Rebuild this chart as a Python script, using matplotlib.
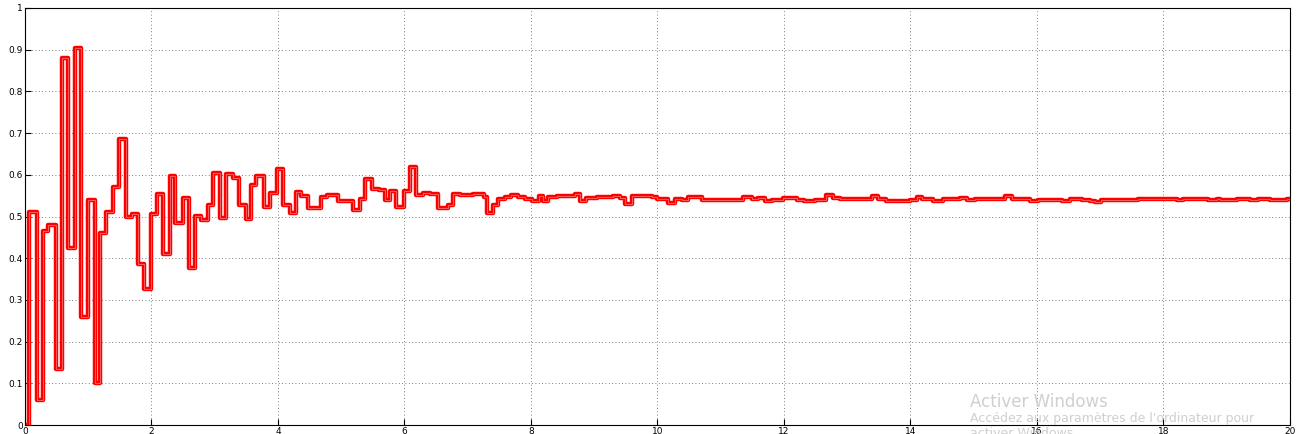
import numpy as np
import matplotlib
matplotlib.use("Agg")
import matplotlib.pyplot as plt

# step start times (s) and held values
t_edges = [0.0, 0.07, 0.195, 0.29, 0.37, 0.485, 0.59, 0.685, 0.795, 0.88,
           1.0, 1.1, 1.19, 1.28, 1.39, 1.49, 1.59, 1.69, 1.78, 1.88,
           1.99, 2.08, 2.19, 2.29, 2.37, 2.50, 2.59, 2.69, 2.79, 2.90,
           2.98, 3.08, 3.18, 3.29, 3.38, 3.50, 3.57, 3.66, 3.78, 3.87,
           3.98, 4.08, 4.19, 4.28, 4.37, 4.48, 4.68, 4.78, 4.95, 5.19,
           5.30, 5.38, 5.48, 5.59, 5.69, 5.77, 5.87, 5.99, 6.08, 6.19,
           6.30, 6.40, 6.53, 6.69, 6.77, 6.88, 7.09, 7.25, 7.30, 7.40,
           7.48, 7.59, 7.69, 7.80, 7.91, 8.01, 8.12, 8.19, 8.27, 8.41,
           8.70, 8.77, 8.87, 9.04, 9.30, 9.41, 9.49, 9.59, 9.91, 9.99,
           10.17, 10.28, 10.38, 10.49, 10.70, 11.36, 11.49, 11.59, 11.70, 11.81,
           11.99, 12.20, 12.31, 12.49, 12.67, 12.78, 12.89, 13.39, 13.49, 13.62,
           13.99, 14.10, 14.18, 14.36, 14.52, 14.78, 14.89, 15.02, 15.49, 15.60,
           15.89, 16.02, 16.39, 16.52, 16.71, 16.84, 16.92, 17.01, 17.60, 17.71,
           18.21, 18.31, 18.39, 18.71, 18.84, 18.89, 19.16, 19.37, 19.50, 19.68,
           19.95, 20.0]
values = [0.0, 0.51, 0.06, 0.465, 0.48, 0.135, 0.88, 0.425, 0.905, 0.26,
          0.54, 0.10, 0.46, 0.51, 0.57, 0.685, 0.50, 0.505, 0.385, 0.325,
          0.505, 0.555, 0.41, 0.597, 0.485, 0.544, 0.376, 0.501, 0.492, 0.528,
          0.605, 0.497, 0.602, 0.592, 0.528, 0.494, 0.576, 0.597, 0.522, 0.557,
          0.613, 0.528, 0.509, 0.559, 0.549, 0.52, 0.546, 0.552, 0.536, 0.516,
          0.541, 0.589, 0.565, 0.564, 0.540, 0.560, 0.522, 0.560, 0.619, 0.552,
          0.557, 0.554, 0.52, 0.528, 0.554, 0.552, 0.554, 0.547, 0.508, 0.528,
          0.541, 0.547, 0.552, 0.546, 0.541, 0.537, 0.549, 0.537, 0.547, 0.549,
          0.554, 0.538, 0.544, 0.547, 0.549, 0.544, 0.529, 0.549, 0.547, 0.541,
          0.532, 0.541, 0.540, 0.546, 0.540, 0.5475, 0.541, 0.5436, 0.538, 0.540,
          0.545, 0.540, 0.537, 0.540, 0.552, 0.545, 0.541, 0.549, 0.541, 0.538,
          0.540, 0.5475, 0.541, 0.538, 0.542, 0.545, 0.540, 0.541, 0.549, 0.541,
          0.538, 0.540, 0.538, 0.541, 0.540, 0.537, 0.535, 0.540, 0.543, 0.541,
          0.540, 0.543, 0.541, 0.540, 0.541, 0.540, 0.541, 0.540, 0.541, 0.540,
          0.541, 0.541]

x_ticks = np.arange(0, 21, 2)
y_ticks = np.round(np.arange(0, 1.01, 0.1), 1)
y_labels = ['0', '0.1', '0.2', '0.3', '0.4', '0.5', '0.6', '0.7', '0.8', '0.9', '1']

fig = plt.figure(figsize=(13, 4.34), dpi=100)
ax = fig.add_axes([0.0192, 0.0207, 0.9731, 0.9609])

ax.step(t_edges, values, where='post', color='red', linewidth=3.2)
ax.step(t_edges, values, where='post', color='#ffb0b0', linewidth=0.6, alpha=0.6)

ax.set_xlim(0, 20)
ax.set_ylim(0, 1)
ax.set_xticks(x_ticks)
ax.set_xticklabels([str(v) for v in x_ticks])
ax.set_yticks(y_ticks)
ax.set_yticklabels(y_labels)
ax.tick_params(direction='in', length=4, width=0.8, labelsize=6.5, pad=1.5)
ax.grid(True, linestyle=(0, (1, 3)), color='#555555', linewidth=0.6)
for s in ax.spines.values():
    s.set_linewidth(0.8)

# windows watermark, as in the screenshot
fig.text(0.746, 0.062, 'Activer Windows', fontsize=12, color='#cfcfcf')
fig.text(0.746, 0.028, "Accédez aux paramètres de l'ordinateur pour", fontsize=9, color='#cfcfcf')
fig.text(0.746, -0.006, 'activer Windows.', fontsize=9, color='#cfcfcf')

fig.savefig('out.png', dpi=100)
